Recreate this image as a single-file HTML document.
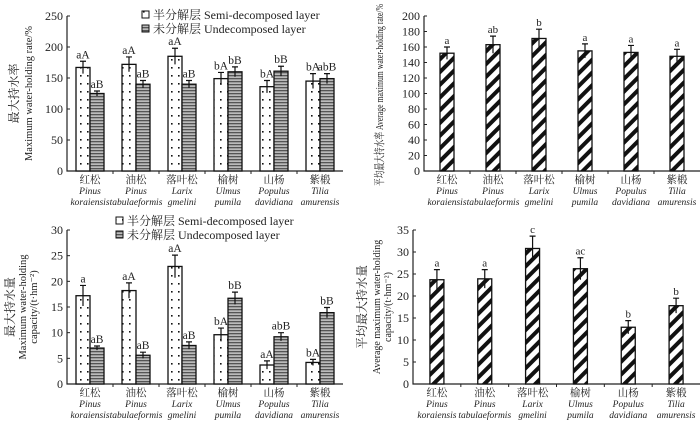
<!DOCTYPE html>
<html><head><meta charset="utf-8"><style>
html,body{margin:0;padding:0;background:#fff;width:700px;height:422px;overflow:hidden}
svg{font-family:"Liberation Serif","Noto Serif CJK SC",serif}
</style></head><body>
<svg id="s" width="700" height="422" viewBox="0 0 700 422">
<defs>
<pattern id="dots" width="7" height="8" patternUnits="userSpaceOnUse"><rect width="7" height="8" fill="#fff"/><rect x="3" y="3" width="1.6" height="1.6" fill="#111"/></pattern>
<pattern id="stripes" width="4" height="3" patternUnits="userSpaceOnUse"><rect width="4" height="3" fill="#bbb"/><rect y="0" width="4" height="1.3" fill="#555"/></pattern>
<pattern id="diag" width="9" height="9" patternUnits="userSpaceOnUse" patternTransform="rotate(45)"><rect width="9" height="9" fill="#fff"/><rect width="4" height="9" fill="#111"/></pattern>
</defs>
</svg>
<script>
const cats=["红松","油松","落叶松","榆树","山杨","紫椴"];
const latin1=["Pinus","Pinus","Larix","Ulmus","Populus","Tilia"];
const latin2=["koraiensis","tabulaeformis","gmelini","pumila","davidiana","amurensis"];
const rateSemi=[167,172,185,149,136,145];
const rateSemiErr=[10,12,13,10,10,12];
const rateUnder=[125,140,140,160,161,149];
const rateUnderErr=[4,6,6,8,8,8];
const rateSemiLbl=["aA","aA","aA","bA","bA","bA"];
const rateUnderLbl=["aB","aB","aB","bB","bB","abB"];
const capSemi=[17.2,18.2,22.9,9.6,3.7,4.2];
const capSemiErr=[2,1.5,2.2,1.3,0.8,0.6];
const capUnder=[7.0,5.6,7.5,16.7,9.2,13.9];
const capUnderErr=[0.4,0.6,0.7,1.2,0.8,1.0];
const capSemiLbl=["a","aA","aA","bA","aA","bA"];
const capUnderLbl=["aB","aB","aB","bB","abB","bB"];
const avgRate=[152,163,171,155,153,148];
const avgRateErr=[8,11,12,9,9,9];
const avgRateLbl=["a","ab","b","a","a","a"];
const avgCap=[23.7,23.9,30.8,26.2,12.9,17.8];
const avgCapErr=[2.3,2.1,2.8,2.5,1.5,1.7];
const avgCapLbl=["a","a","c","ac","b","b"];
const ticks1=[0,50,100,150,200,250];
const ticks2=[0,5,10,15,20,25,30];
const ticks3=[0,20,40,60,80,100,120,140,160,180,200];
const ticks4=[0,5,10,15,20,25,30,35];

const S=document.getElementById('s');const NS="http://www.w3.org/2000/svg";
function el(t,a,p){const e=document.createElementNS(NS,t);for(const k in a)e.setAttribute(k,a[k]);(p||S).appendChild(e);return e;}
function txt(x,y,s,a,p){const e=el('text',Object.assign({x:x,y:y,'font-size':11,'text-anchor':'middle',fill:'#222'},a||{}),p);e.textContent=s;return e;}

function panel(o){
  const g=el('g',{});
  
  
  const y=v=>o.y0-(v/o.max)*(o.y0-o.ytop);
  const cw=(o.x1-o.x0)/cats.length;
  const cx=i=>o.x0+cw*(i+0.5);
  const ax=el('path',{d:`M${o.x0} ${o.ytop}V${o.y0}H${o.x1}`,stroke:'#222','stroke-width':1.2,fill:'none'},g);
  
  o.ticks.forEach(t=>{el('line',{x1:o.x0,x2:o.x0+3,y1:y(t),y2:y(t),stroke:'#222'},g);
    const l=txt(o.x0-4,y(t)+4,String(t),{'text-anchor':'end','font-size':12},g);
    });
  for(let i=1;i<cats.length;i++)el('line',{x1:o.x0+cw*i,x2:o.x0+cw*i,y1:o.y0,y2:o.y0+3,stroke:'#222'},g);
  cats.forEach((c,i)=>{
    const a=txt(cx(i),o.y0+12,c,{'font-size':10.5},g);
    const b=txt(cx(i),o.y0+23,latin1[i],{'font-style':'italic','font-size':9.5},g);
    const d=txt(cx(i),o.y0+34,latin2[i],{'font-style':'italic','font-size':9.5},g);
  });
  o.series.forEach((s,si)=>{
    s.vals.forEach((v,i)=>{
      const bx=o.series.length===2?cx(i)-14+si*14:cx(i)-7;
      const r=el('rect',{x:bx,y:y(v),width:14,height:o.y0-y(v),fill:`url(#${s.pat})`,stroke:'#111','stroke-width':1.3},g);
      
      const m=bx+7,e=s.err[i];
      const eb=el('path',{d:`M${m} ${y(v+e)}V${y(v-e)}M${m-3} ${y(v+e)}H${m+3}`,stroke:'#111','stroke-width':1.2},g);
      
      const l=txt(m,y(v+e)-3,s.lbl[i],{'font-size':o.lf||11.5},g);
      
    });
  });
  o.title.forEach((t,k)=>{
    const cy=t.cy||(o.y0+o.ytop)/2;
    const at={transform:`translate(${t.x},${cy}) rotate(-90)`,'font-size':t.f||11};
    if(t.len){at.textLength=t.len;at.lengthAdjust='spacingAndGlyphs';}
    const tt=txt(0,0,t.s,at,g);
    
  });
  if(o.legend){
    [['Semi','dots','半分解层 Semi-decomposed layer'],['Under','stripes','未分解层 Undecomposed layer']].forEach((L,k)=>{
      const lg=el('g',{},g);
      el('rect',{x:o.legend[0],y:o.legend[1]+k*14-7,width:7,height:7,fill:`url(#${L[1]})`,stroke:'#111'},lg);
      txt(o.legend[0]+11,o.legend[1]+k*14+1,L[2],{'text-anchor':'start','font-size':12},lg);
    });
  }
}
panel({name:'chart-rate',x0:67,x1:343,y0:171,ytop:16,max:250,ticks:ticks1,legend:[142,18],
  series:[{key:'semi',vals:rateSemi,err:rateSemiErr,lbl:rateSemiLbl,pat:'dots'},{key:'under',vals:rateUnder,err:rateUnderErr,lbl:rateUnderLbl,pat:'stripes'}],
  title:[{x:18,s:'最大持水率',f:12},{x:32,s:'Maximum water-holding rate/%',f:10.5}]});
panel({name:'chart-capacity',x0:67,x1:343,y0:384,ytop:230,max:30,ticks:ticks2,legend:[116,224],
  series:[{key:'semi',vals:capSemi,err:capSemiErr,lbl:capSemiLbl,pat:'dots'},{key:'under',vals:capUnder,err:capUnderErr,lbl:capUnderLbl,pat:'stripes'}],
  title:[{x:14,s:'最大持水量',f:12},{x:26,s:'Maximum water-holding',f:10.5},{x:37,s:'capacity/(t·hm⁻²)',f:10.5}]});
panel({name:'chart-avg-rate',x0:424,x1:700,y0:171,ytop:16,max:200,ticks:ticks3,lf:11,
  series:[{key:'avg',vals:avgRate,err:avgRateErr,lbl:avgRateLbl,pat:'diag'}],
  title:[{x:383,cy:95,len:182,s:'平均最大持水率 Average maximum water-holding rate/%',f:11}]});
panel({name:'chart-avg-capacity',x0:413,x1:700,y0:384,ytop:230,max:35,ticks:ticks4,lf:11,
  series:[{key:'avg',vals:avgCap,err:avgCapErr,lbl:avgCapLbl,pat:'diag'}],
  title:[{x:366,s:'平均最大持水量',f:12},{x:380,s:'Average maximum water-holding',f:10},{x:391,s:'capacity/(t·hm⁻²)',f:10}]});
</script>
</body></html>
